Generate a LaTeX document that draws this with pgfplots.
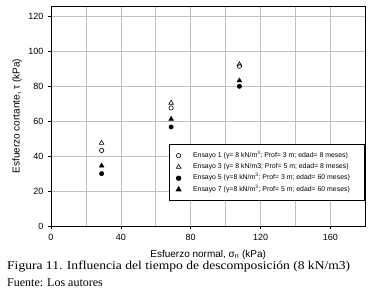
\documentclass[border=0pt]{standalone}
\usepackage{pgfplots}
\pgfplotsset{compat=1.18}
\usepackage{fontspec}
\usepackage{graphicx}
\setmainfont{Liberation Sans}
\newfontfamily\capfont{Liberation Serif}
\begin{document}
\begin{tikzpicture}
\useasboundingbox (-51pt,-67pt) rectangle (328pt,226pt);
\begin{axis}[
  at={(0,0)}, anchor=south west,
  scale only axis, width=314.3pt, height=220pt,
  xmin=0, xmax=180, ymin=0, ymax=126,
  xtick={0,40,80,120,160}, minor xtick={20,60,100,140,180},
  ytick={0,20,40,60,80,100,120},
  grid=both,
  major grid style={draw=black!25, line width=0.6pt},
  minor grid style={draw=black!25, line width=0.6pt},
  axis line style={line width=0.9pt},
  tick style={black, line width=0.6pt},
  major tick length=3pt, minor tick length=0pt,
  tick align=outside,
  xtick pos=bottom, ytick pos=left,
  /pgf/number format/assume math mode=true,
  ticklabel style={font=\fontsize{9}{10}\selectfont},
  xticklabel style={yshift=-1.5pt},
  yticklabel style={xshift=-1pt},
  label style={font=\fontsize{10}{11}\selectfont},
  xlabel={Esfuerzo normal, σ\textsubscript{n} (kPa)},
  ylabel={Esfuerzo cortante, τ (kPa)},
  xlabel style={at={(axis description cs:0.5,0)}, anchor=base, yshift=-31pt},
  legend image code/.code={%
    \path (-5pt,0pt) (3pt,0pt);
    \draw[#1] plot coordinates {(0pt,0pt)};},
  legend style={at={(1,0.373)}, anchor=north east, draw=black, line width=0.9pt,
    font=\fontsize{6.9}{8}\selectfont, fill=white,
    row sep=0.8pt, inner xsep=4pt, inner ysep=6pt,
    cells={anchor=west, text height=5pt, text depth=1.5pt, inner ysep=1pt},
    /tikz/every odd column/.append style={column sep=9pt}},
  legend cell align=left,
]
\addplot[only marks, mark=o, mark size=2.2pt, black, line width=0.6pt] coordinates {(29,43.3) (68.8,67.6) (107.9,91.5)};
\addlegendentry{Ensayo 1 (γ= 8 kN/m\textsuperscript{3}; Prof= 3 m; edad= 8 meses)\hspace*{9pt}}
\addplot[only marks, mark=triangle, mark size=2.7pt, black, line width=0.6pt] coordinates {(29,47.5) (68.8,70.5) (107.9,92.5)};
\addlegendentry{Ensayo 3 (γ= 8 kN/m3; Prof= 5 m; edad= 8 meses)}
\addplot[only marks, mark=*, mark size=2.2pt, black] coordinates {(29,30) (68.8,56.7) (107.9,80)};
\addlegendentry{Ensayo 5 (γ=8 kN/m\textsuperscript{3}; Prof= 3 m; edad= 60 meses)\hspace*{9pt}}
\addplot[only marks, mark=triangle*, mark size=2.7pt, black] coordinates {(29,34.5) (68.8,61.3) (107.9,83.3)};
\addlegendentry{Ensayo 7 (γ=8 kN/m\textsuperscript{3}; Prof= 5 m; edad= 60 meses)\hspace*{9pt}}
\end{axis}
\node[anchor=base west, inner sep=0pt, font=\capfont\fontsize{12}{13}\selectfont] at (-44pt,-43pt) {\scalebox{1.13}[1]{Figura 11. Influencia del tiempo de descomposición (8 kN/m3)}};
\node[anchor=base west, inner sep=0pt, font=\capfont\fontsize{12}{13}\selectfont] at (-44pt,-60pt) {Fuente: Los autores};
\end{tikzpicture}
\end{document}
